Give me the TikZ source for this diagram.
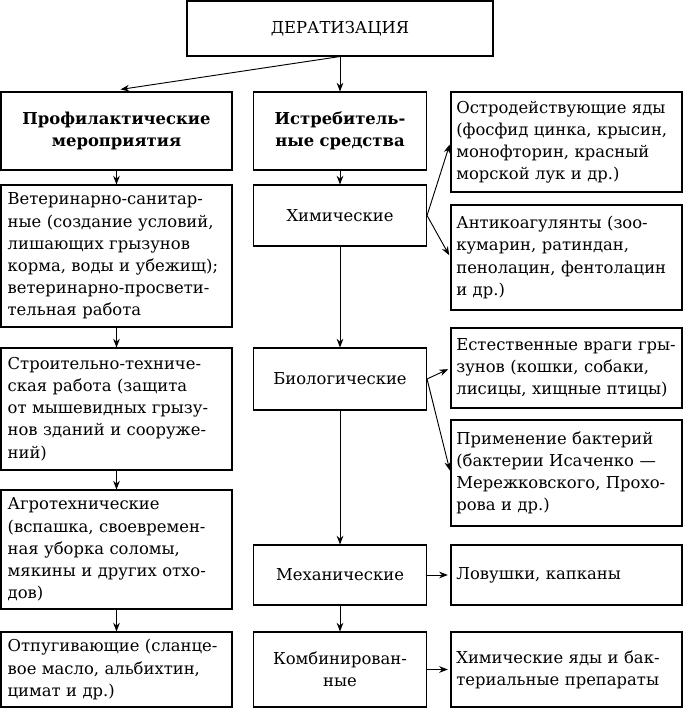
\documentclass[tikz,border=0pt]{standalone}
\usepackage{fontspec}
\setmainfont{DejaVu Serif}
\usepackage{tikz}
\usetikzlibrary{arrows.meta,positioning,calc}

\begin{document}
\begin{tikzpicture}[x=0.75pt,y=-0.75pt,>={Stealth[length=6.5pt,width=5pt]},
box/.style={draw,line width=0.8pt,inner xsep=5pt,inner ysep=0pt,font=\fontsize{12.3}{16.6}\selectfont},
lbox/.style={box,align=left,text width=163.25pt,minimum width=173.25pt},
mbox/.style={box,align=center,text width=119.75pt,minimum width=129.75pt},
rbox/.style={box,align=left,inner xsep=4pt,text width=165.25pt,minimum width=173.25pt},
conn/.style={->,line width=0.7pt}]
\useasboundingbox (0,0) rectangle (683,709);
\node (d) at (340,28.5)[box,minimum width=229.5pt,minimum height=41.25pt] {ДЕРАТИЗАЦИЯ};
% left column
\node (p1) at (116.5,131)[lbox,align=center,minimum height=58.5pt] {\textbf{Профилактические}\\\textbf{мероприятия}};
\node (p2) at (116.5,256)[lbox,minimum height=106.5pt] {Ветеринарно-санитар-\\ные (создание условий,\\лишающих грызунов\\корма, воды и убежищ);\\ветеринарно-просвети-\\тельная работа};
\node (p3) at (116.5,409)[lbox,minimum height=91.5pt] {Строительно-техниче-\\ская работа (защита\\от мышевидных грызу-\\нов зданий и сооруже-\\ний)};
\node (p4) at (116.5,549.5)[lbox,minimum height=89.25pt] {Агротехнические\\(вспашка, своевремен-\\ная уборка соломы,\\мякины и других отхо-\\дов)};
\node (p5) at (116.5,669.5)[lbox,minimum height=56.25pt] {Отпугивающие (сланце-\\вое масло, альбихтин,\\цимат и др.)};
% middle column
\node (i1) at (340,131)[mbox,minimum height=58.5pt] {\textbf{Истребитель-}\\\textbf{ные средства}};
\node (i2) at (340,215.5)[mbox,minimum height=45.75pt] {Химические};
\node (i3) at (340,379)[mbox,minimum height=46.5pt] {Биологические};
\node (i4) at (340,575)[mbox,minimum height=45pt] {Механические};
\node (i5) at (340,669.5)[mbox,minimum height=56.25pt] {Комбинирован-\\ные};
% right column
\node (r1) at (566.5,142)[rbox,minimum height=75pt] {Остродействующие яды\\(фосфид цинка, крысин,\\монофторин, красный\\морской лук и др.)};
\node (r2) at (566.5,257.5)[rbox,minimum height=78.75pt] {Антикоагулянты (зоо-\\кумарин, ратиндан,\\пенолацин, фентолацин\\и др.)};
\node (r3) at (566.5,368)[rbox,minimum height=60pt] {Естественные враги гры-\\зунов (кошки, собаки,\\лисицы, хищные птицы)};
\node (r4) at (566.5,473)[rbox,minimum height=79.5pt] {Применение бактерий\\(бактерии Исаченко —\\Мережковского, Прохо-\\рова и др.)};
\node (r5) at (566.5,575)[rbox,minimum height=45pt] {Ловушки, капканы};
\node (r6) at (566.5,669.5)[rbox,minimum height=56.25pt] {Химические яды и бак-\\териальные препараты};
% connectors
\draw[conn] (d.south) -- ($(p1.north)+(4,-2)$);
\draw[conn] (d.south) -- (i1.north);
\draw[conn] (p1) -- (p2);
\draw[conn] (p2) -- (p3);
\draw[conn] (p3) -- (p4);
\draw[conn] (p4) -- (p5);
\draw[conn] (i1) -- (i2);
\draw[conn] (i2) -- (i3);
\draw[conn] (i3) -- (i4);
\draw[conn] (i4) -- (i5);
\draw[conn,shorten >=2pt] (i2.east) -- (r1.west);
\draw[conn,shorten >=2pt] (i2.east) -- (r2.west);
\draw[conn,shorten >=2pt] (i3.east) -- (r3.west);
\draw[conn,shorten >=2pt] (i3.east) -- (r4.west);
\draw[conn,shorten >=2pt] (i4) -- (r5);
\draw[conn,shorten >=2pt] (i5) -- (r6);
\end{tikzpicture}
\end{document}
